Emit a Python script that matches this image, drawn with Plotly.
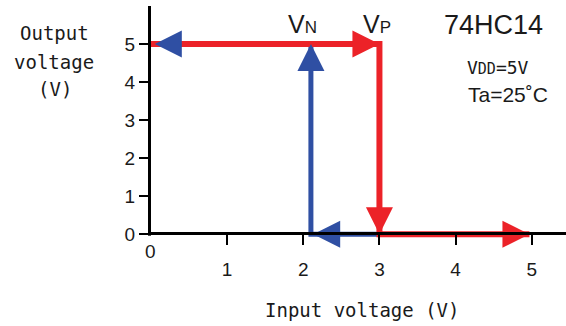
import plotly.graph_objects as go

# ---- data ----
v_n = 2.1          # negative-going threshold (V)
v_p = 3.0          # positive-going threshold (V)
v_dd = 5.0
vin_max = 5.0

# rising input path (red): low input -> output high, switches at VP
red_x = [0, v_p, v_p, 4.97]
red_y = [v_dd, v_dd, 0, 0]
# falling input path (blue): switches at VN
blue_x = [v_p, v_n, v_n, 0]
blue_y = [0, 0, v_dd, v_dd]

# arrow heads (tip positions and directions)
red_arrow_x = [v_p, v_p, 4.97]
red_arrow_y = [v_dd, 0, 0]
red_arrow_dir = ["arrow-right", "arrow-down", "arrow-right"]
blue_arrow_x = [v_n, 0.05, 2.13]
blue_arrow_y = [v_dd, v_dd, 0]
blue_arrow_dir = ["arrow-up", "arrow-left", "arrow-left"]

x_ticks = [1, 2, 3, 4, 5]
x_tick_labels = ["1", "2", "3", "4", "5"]
y_ticks = [0, 1, 2, 3, 4, 5]
y_tick_labels = ["0", "1", "2", "3", "4", "5"]

RED = "#ec2228"
BLUE = "#2f4fa3"
TXT = "#1a1a1a"
MONO = "DejaVu Sans Mono"
SANS = "Liberation Sans, Arial, sans-serif"

Y_MIN, Y_MAX = -0.1, 6.0

fig = go.Figure()
fig.add_trace(go.Scatter(x=blue_x, y=blue_y, mode="lines",
                         line=dict(color=BLUE, width=5), cliponaxis=False,
                         hoverinfo="skip"))
fig.add_trace(go.Scatter(x=red_x, y=red_y, mode="lines",
                         line=dict(color=RED, width=6), cliponaxis=False,
                         hoverinfo="skip"))
fig.add_trace(go.Scatter(x=blue_arrow_x, y=blue_arrow_y, mode="markers",
                         marker=dict(symbol=blue_arrow_dir, size=27, color=BLUE,
                                     line=dict(width=0)),
                         cliponaxis=False, hoverinfo="skip"))
fig.add_trace(go.Scatter(x=red_arrow_x, y=red_arrow_y, mode="markers",
                         marker=dict(symbol=red_arrow_dir, size=27, color=RED,
                                     line=dict(width=0)),
                         cliponaxis=False, hoverinfo="skip"))

ann = []
# threshold labels
ann.append(dict(x=v_n, y=v_dd, xref="x", yref="y", yshift=20, xshift=-8,
                text="V<span style='font-size:17px'>N</span>", showarrow=False,
                font=dict(family=SANS, size=25, color=TXT)))
ann.append(dict(x=v_p, y=v_dd, xref="x", yref="y", yshift=20, xshift=-2,
                text="V<span style='font-size:17px'>P</span>", showarrow=False,
                font=dict(family=SANS, size=25, color=TXT)))
# device info
ann.append(dict(x=493, y=25, text="74HC14",
                showarrow=False, font=dict(family=SANS, size=27, color=TXT)))
ann.append(dict(x=498, y=67, text="V<span style='font-size:15px'>DD</span>=5V",
                showarrow=False, font=dict(family=MONO, size=18, color=TXT)))
ann.append(dict(x=508, y=94, text="Ta=25˚C",
                showarrow=False, font=dict(family=SANS, size=21, color=TXT)))
# axis titles
ann.append(dict(x=54, y=33, text="Output", showarrow=False,
                font=dict(family=MONO, size=19, color=TXT)))
ann.append(dict(x=54, y=62, text="voltage", showarrow=False,
                font=dict(family=MONO, size=19, color=TXT)))
ann.append(dict(x=55, y=89, text="(V)", showarrow=False,
                font=dict(family=MONO, size=19, color=TXT)))
ann.append(dict(x=362, y=310, text="Input voltage (V)", showarrow=False,
                font=dict(family=MONO, size=19, color=TXT)))
# origin label on x axis
ann.append(dict(x=150, y=251, text="0", showarrow=False,
                font=dict(family=SANS, size=19, color=TXT)))

# convert pixel-placed annotations to paper coordinates
W, H = 566, 326
ML, MR, MT, MB = 151, 0, 6, 88
PW, PH = W - ML - MR, H - MT - MB
PX_PER_Y = PH / (Y_MAX - Y_MIN)
for a in ann:
    if a.get("xref") == "x":
        continue
    px, py = a["x"], a["y"]
    a["xref"] = "paper"
    a["yref"] = "paper"
    a["x"] = (px - ML) / PW
    a["y"] = (H - MB - py) / PH
    a["xanchor"] = "center"
    a["yanchor"] = "middle"

# x axis line sits at y = 0 (slightly inside the plot so thick lines are not clipped)
x_axis_pos = (0 - Y_MIN) / (Y_MAX - Y_MIN) + 1.5 / PH

# vertical axis line drawn from the x axis up to the top
y_axis_line = dict(type="line", xref="paper", yref="y",
                   x0=-1.5 / PW, x1=-1.5 / PW,
                   y0=-1.5 / PX_PER_Y, y1=Y_MAX,
                   line=dict(color="black", width=3), layer="above")

fig.update_layout(
    width=W, height=H,
    margin=dict(l=ML, r=MR, t=MT, b=MB, pad=0),
    paper_bgcolor="white", plot_bgcolor="white",
    showlegend=False,
    annotations=ann,
    shapes=[y_axis_line],
    xaxis=dict(range=[0, 5.45], showline=True, linewidth=3, linecolor="black",
               anchor="free", position=x_axis_pos,
               ticks="outside", ticklen=10, tickwidth=2, tickcolor="black",
               tickvals=x_ticks, ticktext=x_tick_labels, ticklabelstandoff=9,
               tickfont=dict(family=SANS, size=19, color=TXT),
               showgrid=False, zeroline=False, fixedrange=True),
    yaxis=dict(range=[Y_MIN, Y_MAX], showline=False,
               ticks="outside", ticklen=11, tickwidth=2, tickcolor="black",
               tickvals=y_ticks, ticktext=y_tick_labels, ticklabelstandoff=0,
               tickfont=dict(family=SANS, size=19, color=TXT),
               showgrid=False, zeroline=False, fixedrange=True),
)

fig.write_html("out.html", config={"displayModeBar": False})
